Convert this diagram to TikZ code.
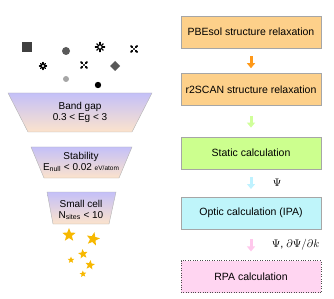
\documentclass[tikz,border=0pt]{standalone}
\usepackage{fontspec}
\setmainfont{Liberation Sans}
\usetikzlibrary{positioning,shapes.geometric,arrows.meta}
\definecolor{relaxfill}{HTML}{FDD08A}
\definecolor{staticfill}{HTML}{CCFF8E}
\definecolor{opticfill}{HTML}{BFF5FA}
\definecolor{rpafill}{HTML}{FFD5F1}
\definecolor{arrowrelax}{HTML}{FF9919}
\definecolor{arrowstatic}{HTML}{D0FF9A}
\definecolor{arrowoptic}{HTML}{BFF2FF}
\definecolor{arrowrpa}{HTML}{FFC8EC}
\definecolor{lavender}{HTML}{C4C0F8}
\definecolor{peach}{HTML}{FCE3CC}
\definecolor{stargold}{HTML}{F7B800}
\begin{document}
\begin{tikzpicture}[x=1pt, y=-1pt,
    every node/.style={align=center, font=\fontsize{10.5}{12}\selectfont},
    calc box/.style={draw=gray!70, rectangle, minimum width=140pt, minimum height=32pt},
    flow/.style={-{Triangle[width=8pt,length=5pt]}, line width=3pt},
    filter/.style={draw=gray!60, top color=lavender, bottom color=peach},
    filter text/.style={font=\fontsize{10}{11}\selectfont},
    gold star/.style={star, star points=5, star point ratio=2.3, fill=stargold, draw=none, inner sep=0pt}]
        \useasboundingbox (0,0) rectangle (334,299);

        % Nodes
        \node (pbe) [calc box, fill=relaxfill] at (251,32) {PBEsol structure relaxation};
        \node (scan) [calc box, fill=relaxfill, below=25pt of pbe] {r2SCAN structure relaxation};
        \node (static) [calc box, fill=staticfill, below=31pt of scan] {Static calculation};
        \node (optic) [calc box, fill=opticfill, below=28pt of static] {Optic calculation (IPA)};
        \node (rpa) [calc box, fill=rpafill, draw=black!70, dotted, below=31pt of optic] {RPA calculation};

        % Connectors
        \draw [flow, draw=arrowrelax, shorten <=8pt, shorten >=5pt] (pbe) -- (scan);
        \draw [flow, draw=arrowstatic, shorten <=10pt, shorten >=9pt] (scan) -- (static);
        \draw [flow, draw=arrowoptic, shorten <=8pt, shorten >=8pt] (static) -- node[right=17pt, font=\fontsize{11}{12}\selectfont] {$\Psi$} (optic);
        \draw [flow, draw=arrowrpa, shorten <=10pt, shorten >=9pt] (optic) -- node[right=16pt, font=\fontsize{11}{12}\selectfont] {$\Psi$, $\partial\Psi/\partial k$} (rpa);

        % Funnel
        \draw [filter] (8,93) -- (152,93) -- (132,132) -- (28,132) -- cycle;
        \draw [filter] (31,147) -- (132,147) -- (119,178) -- (44,178) -- cycle;
        \draw [filter] (47,192) -- (116,192) -- (109,224) -- (53,224) -- cycle;
        \node (gap) [filter text] at (80,112.5) {Band gap\\0.3 < Eg < 3};
        \node (stab) [filter text] at (81,162) {Stability\\E\textsubscript{null} < 0.02 {\fontsize{6.5}{7}\selectfont eV/atom}};
        \node (cell) [filter text] at (81,210) {Small cell\\N\textsubscript{sites} < 10};

        % Candidate structures
        \fill [black!75] (22,42) rectangle (32,52);
        \fill [black!65] (66,51) circle (4);
        \foreach \a in {0,45,...,315}
            \draw [line width=1.4pt, line cap=round] (100,47) ++(\a:1.8) -- ++(\a:2.8);
        \foreach \a in {0,45,...,315}
            \draw [line width=1.2pt, line cap=round] (43,66) ++(\a:1.4) -- ++(\a:2.2);
        \foreach \a in {45,135,225,315} {
            \draw [line width=1.8pt, line cap=round] (134,49) ++(\a:2.6) -- ++(\a:1.8);
            \draw [line width=1.8pt, line cap=round] (84,65) ++(\a:2.6) -- ++(\a:1.8);
        }
        \fill (134,49) circle (1.2);
        \fill (84,65) circle (1.2);
        \fill [black!65] (115,61) -- (120,66) -- (115,71) -- (110,66) -- cycle;
        \fill [black!35] (66,79) circle (3);
        \fill [black] (98,85) circle (3.2);

        % Selected materials
        \foreach \x/\y/\s/\r [count=\i] in {69/235/14/0, 93/239/14/-12, 83/254/10/8, 71/260/7/0, 90/265/10/-8, 83/274/7/5}
            \node (star\i) [gold star, minimum size=\s pt, rotate=\r] at (\x,\y) {};
    \end{tikzpicture}
\end{document}
